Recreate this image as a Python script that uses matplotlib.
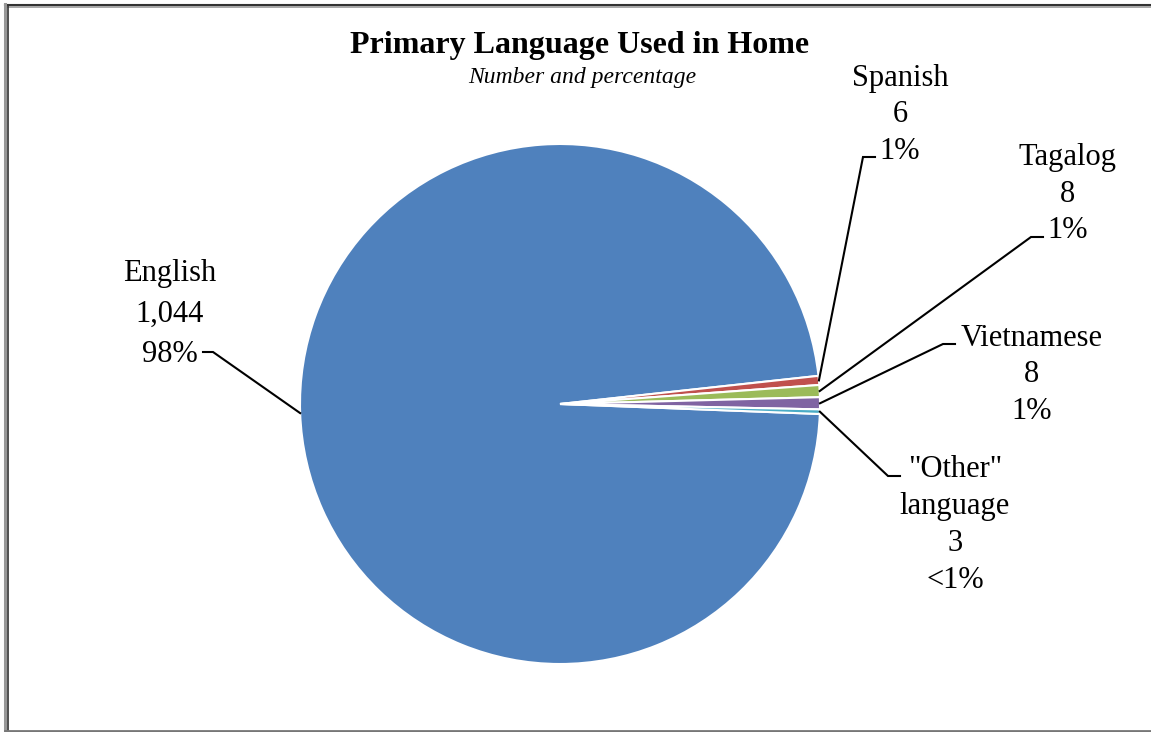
import numpy as np
import matplotlib.pyplot as plt

# Primary language counts
languages = ['English', 'Spanish', 'Tagalog', 'Vietnamese', '"Other"\nlanguage']
counts = [1044, 6, 8, 8, 3]
pct_labels = ['98%', '1%', '1%', '1%', '<1%']
count_labels = ['1,044', '6', '8', '8', '3']
colors = ['#4F81BD', '#C0504D', '#9BBB59', '#8064A2', '#4BACC6']

W, H = 1151, 732

# label block centres and leader elbows, in pixel space (y down)
label_pos = [(170, 314), (900, 115), (1068, 194), (1032, 375), (955, 525)]
label_spacing = [1.52, 1.33, 1.34, 1.34, 1.36]
elbows = [((203, 352), (213, 352)),
          ((875, 157), (863, 157)),
          ((1043, 237), (1031, 237)),
          ((955, 344), (943, 344)),
          ((900, 476), (888, 476))]

plt.rcParams['font.family'] = ['Liberation Serif', 'DejaVu Serif']

fig = plt.figure(figsize=(W / 100, H / 100), dpi=100)
ax = fig.add_axes([0, 0, 1, 1])


def py(y):
    return H - y


cx, cy, r = 560, py(404), 260
wedges, _ = ax.pie(counts, colors=colors, startangle=-2.2, counterclock=False,
                   center=(cx, cy), radius=r, frame=True,
                   wedgeprops=dict(edgecolor='white', linewidth=1.5))
ax.set_xlim(0, W)
ax.set_ylim(0, H)
ax.set_aspect('equal')
ax.axis('off')

for w, lang, cnt, pct, (lx, ly), ls, (e0, e1) in zip(wedges, languages, count_labels,
                                                     pct_labels, label_pos,
                                                     label_spacing, elbows):
    ang = np.deg2rad((w.theta1 + w.theta2) / 2)
    ex, ey = cx + r * np.cos(ang), cy + r * np.sin(ang)
    ax.plot([e0[0], e1[0], ex], [py(e0[1]), py(e1[1]), ey],
            color='black', lw=1.5, solid_joinstyle='miter')
    ax.text(lx, py(ly), f'{lang}\n{cnt}\n{pct}', ha='center', va='center',
            multialignment='center', fontsize=22, linespacing=ls)

ax.text(580, py(45), 'Primary Language Used in Home', ha='center', va='center',
        fontsize=23, fontweight='bold')
ax.text(582, py(78), 'Number and percentage', ha='center', va='center',
        fontsize=17, fontstyle='italic')

# double frame around the chart area
ax.plot([5, W], [py(4.5), py(4.5)], color='#333333', lw=1.5, clip_on=False)
ax.plot([8, W], [py(6.5), py(6.5)], color='#999999', lw=1.2, clip_on=False)
ax.plot([5.5, 5.5], [py(4), py(731)], color='#999999', lw=2.2, clip_on=False)
ax.plot([8, 8], [py(6), py(730)], color='#333333', lw=1.2, clip_on=False)
ax.plot([5, W], [py(730.5), py(730.5)], color='#777777', lw=2, clip_on=False)

fig.savefig('out.png', dpi=100)
